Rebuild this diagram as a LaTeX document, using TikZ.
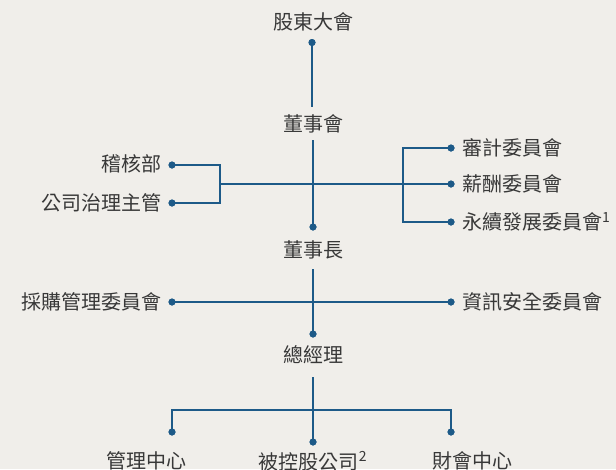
\documentclass[tikz,border=0pt]{standalone}
\usepackage{fontspec}
\setmainfont{Noto Sans CJK TC}
\definecolor{bg}{HTML}{F0EEEA}
\definecolor{ln}{HTML}{1D5A88}
\definecolor{tx}{HTML}{383838}
\tikzset{
 lbl/.style={font=\fontsize{20}{24}\selectfont, text=tx, inner sep=0pt},
 conn/.style={draw=ln, line width=1.8pt},
 thinconn/.style={draw=ln, line width=1.3pt},
 dotc/.style={circle, fill=ln, inner sep=0pt, minimum size=7pt},
}
\begin{document}
\begin{tikzpicture}[x=1pt,y=-1pt]
\fill[bg] (0,0) rectangle (616,469);
\useasboundingbox (0,0) rectangle (616,469);
% labels
\node[lbl] (gd) at (313,22) {股東大會};
\node[lbl] (bd) at (313,124) {董事會};
\node[lbl,anchor=east] (jh) at (162,164) {稽核部};
\node[lbl,anchor=east] (gs) at (162,203) {公司治理主管};
\node[lbl,anchor=west] (sj) at (462,148) {審計委員會};
\node[lbl,anchor=west] (xc) at (462,184) {薪酬委員會};
\node[lbl,anchor=west] (yx) at (462,222) {永續發展委員會\textsuperscript{1}};
\node[lbl] (dz) at (313,250) {董事長};
\node[lbl,anchor=east] (cg) at (162,302) {採購管理委員會};
\node[lbl,anchor=west] (zx) at (462,302) {資訊安全委員會};
\node[lbl] (zj) at (313,355) {總經理};
\node[lbl] (gl) at (146,461) {管理中心};
\node[lbl] (bk) at (313,461) {被控股公司\textsuperscript{2}};
\node[lbl] (ch) at (472,461) {財會中心};
% dots
\node[dotc] (d0) at (312,42.5) {};
\node[dotc] (d1) at (313,227) {};
\node[dotc] (dl1) at (172,165) {};
\node[dotc] (dl2) at (172,203) {};
\node[dotc] (dr1) at (451,148) {};
\node[dotc] (dr2) at (451,184) {};
\node[dotc] (dr3) at (451,222) {};
\node[dotc] (d2) at (313,334) {};
\node[dotc] (dl3) at (172,302) {};
\node[dotc] (dr4) at (451,302) {};
\node[dotc] (b1) at (172,432) {};
\node[dotc] (b2) at (313,442) {};
\node[dotc] (b3) at (451,432) {};
% coordinates
\coordinate (e0) at (312,107);
\coordinate (s1) at (313,140);
\coordinate (cl1) at (220,165);
\coordinate (cl2) at (220,203);
\coordinate (hm) at (220,184);
\coordinate (cr1) at (403,148);
\coordinate (cr2) at (403,184);
\coordinate (cr3) at (403,222);
\coordinate (s2) at (313,269);
\coordinate (s3) at (313,377);
\coordinate (j3) at (313,410);
\coordinate (bl) at (172,410);
\coordinate (br) at (451,410);
% connectors
\draw[conn] (d0.center) -- (e0);
\draw[conn] (s1) -- (d1.center);
\draw[conn] (dl1.center) -- (cl1) -- (cl2) -- (dl2.center);
\draw[thinconn] (hm) -- (cr2);
\draw[conn] (dr1.center) -- (cr1) -- (cr3) -- (dr3.center);
\draw[conn] (cr2) -- (dr2.center);
\draw[conn] (s2) -- (d2.center);
\draw[thinconn] (dl3.center) -- (dr4.center);
\draw[conn] (s3) -- (j3);
\draw[conn] (b1.center) -- (bl) -- (br) -- (b3.center);
\draw[conn] (j3) -- (b2.center);
% redraw dots on top
\foreach \n in {d0,d1,dl1,dl2,dr1,dr2,dr3,d2,dl3,dr4,b1,b2,b3}
  \fill[ln] (\n) circle (3.5pt);
\end{tikzpicture}
\end{document}
